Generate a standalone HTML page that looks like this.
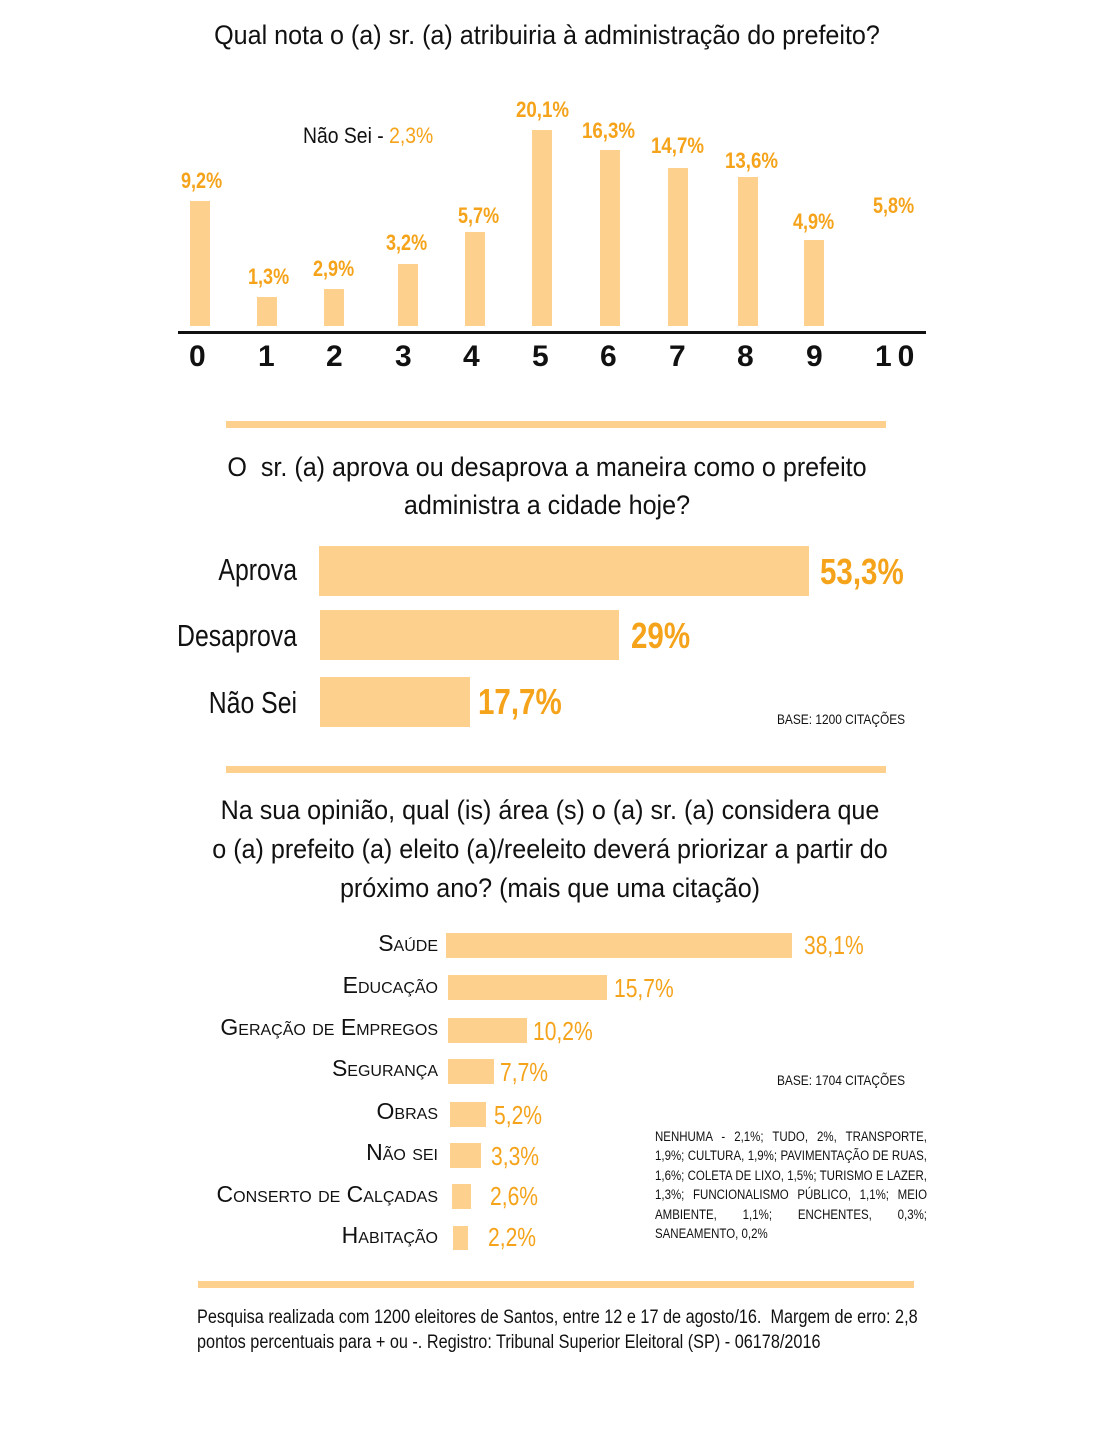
<!DOCTYPE html><html><head><meta charset="utf-8"><style>
body{margin:0;width:1094px;height:1448px;background:#fff;position:relative;font-family:"Liberation Sans",sans-serif;color:#111;overflow:hidden}
div{position:absolute}
.b{background:#fdd08e}
.o{color:#f5a31a;font-weight:bold;white-space:nowrap;transform-origin:left top}
.t{white-space:nowrap}
.c{text-align:center;transform-origin:center top}
.r{text-align:right;transform-origin:right top}
.sc{font-variant:small-caps}
.sep{background:#fdd08e;height:7px}
.n{font-weight:normal}
</style></head><body>
<div class="t c" style="left:0;width:1094px;top:20px;font-size:27px;transform:scaleX(0.93)">Qual nota o (a) sr. (a) atribuiria à administração do prefeito?</div>
<div class="t" style="left:303px;top:123px;font-size:22px;transform:scaleX(0.88);transform-origin:left top">Não Sei - <span style="color:#f5a31a">2,3%</span></div>
<div class="b" style="left:190px;top:201px;width:20px;height:125px"></div>
<div class="b" style="left:257px;top:297px;width:20px;height:29px"></div>
<div class="b" style="left:324px;top:289px;width:20px;height:37px"></div>
<div class="b" style="left:398px;top:264px;width:20px;height:62px"></div>
<div class="b" style="left:465px;top:232px;width:20px;height:94px"></div>
<div class="b" style="left:532px;top:130px;width:20px;height:196px"></div>
<div class="b" style="left:600px;top:150px;width:20px;height:176px"></div>
<div class="b" style="left:668px;top:168px;width:20px;height:158px"></div>
<div class="b" style="left:738px;top:177px;width:20px;height:149px"></div>
<div class="b" style="left:804px;top:240px;width:20px;height:86px"></div>
<div style="left:178px;top:331px;width:748px;height:3px;background:#111"></div>
<div class="o" style="left:181px;top:168px;font-size:22px;transform:scaleX(0.82)">9,2%</div>
<div class="o" style="left:248px;top:264px;font-size:22px;transform:scaleX(0.82)">1,3%</div>
<div class="o" style="left:313px;top:256px;font-size:22px;transform:scaleX(0.82)">2,9%</div>
<div class="o" style="left:386px;top:230px;font-size:22px;transform:scaleX(0.82)">3,2%</div>
<div class="o" style="left:458px;top:203px;font-size:22px;transform:scaleX(0.82)">5,7%</div>
<div class="o" style="left:516px;top:97px;font-size:22px;transform:scaleX(0.85)">20,1%</div>
<div class="o" style="left:582px;top:118px;font-size:22px;transform:scaleX(0.85)">16,3%</div>
<div class="o" style="left:651px;top:133px;font-size:22px;transform:scaleX(0.85)">14,7%</div>
<div class="o" style="left:725px;top:148px;font-size:22px;transform:scaleX(0.85)">13,6%</div>
<div class="o" style="left:793px;top:209px;font-size:22px;transform:scaleX(0.82)">4,9%</div>
<div class="o" style="left:873px;top:193px;font-size:22px;transform:scaleX(0.82)">5,8%</div>
<div class="t" style="left:189px;top:340px;font-size:30px;font-weight:bold">0</div>
<div class="t" style="left:258px;top:340px;font-size:30px;font-weight:bold">1</div>
<div class="t" style="left:326px;top:340px;font-size:30px;font-weight:bold">2</div>
<div class="t" style="left:395px;top:340px;font-size:30px;font-weight:bold">3</div>
<div class="t" style="left:463px;top:340px;font-size:30px;font-weight:bold">4</div>
<div class="t" style="left:532px;top:340px;font-size:30px;font-weight:bold">5</div>
<div class="t" style="left:600px;top:340px;font-size:30px;font-weight:bold">6</div>
<div class="t" style="left:669px;top:340px;font-size:30px;font-weight:bold">7</div>
<div class="t" style="left:737px;top:340px;font-size:30px;font-weight:bold">8</div>
<div class="t" style="left:806px;top:340px;font-size:30px;font-weight:bold">9</div>
<div class="t" style="left:875px;top:340px;font-size:30px;font-weight:bold;letter-spacing:6px">10</div>

<div class="sep" style="left:226px;top:421px;width:660px"></div>
<div class="t c" style="left:0;width:1094px;top:448px;font-size:27px;line-height:38px;transform:scaleX(0.93)">O&nbsp; sr. (a) aprova ou desaprova a maneira como o prefeito<br>administra a cidade hoje?</div>
<div class="b" style="left:319px;top:546px;width:490px;height:50px"></div>
<div class="b" style="left:320px;top:610px;width:299px;height:50px"></div>
<div class="b" style="left:320px;top:677px;width:150px;height:50px"></div>
<div class="t r" style="left:100px;width:197px;top:552px;font-size:31px;transform:scaleX(0.8)">Aprova</div>
<div class="t r" style="left:100px;width:197px;top:618px;font-size:31px;transform:scaleX(0.8)">Desaprova</div>
<div class="t r" style="left:100px;width:197px;top:685px;font-size:31px;transform:scaleX(0.8)">Não Sei</div>
<div class="o" style="left:820px;top:551px;font-size:36px;transform:scaleX(0.82)">53,3%</div>
<div class="o" style="left:631px;top:615px;font-size:36px;transform:scaleX(0.82)">29%</div>
<div class="o" style="left:478px;top:681px;font-size:36px;transform:scaleX(0.82)">17,7%</div>
<div class="t" style="left:777px;top:711px;font-size:14px;transform:scaleX(0.85);transform-origin:left top">BASE: 1200 CITAÇÕES</div>

<div class="sep" style="left:226px;top:766px;width:660px"></div>
<div class="t c" style="left:0;width:1100px;top:791px;font-size:27px;line-height:39px;transform:scaleX(0.93)">Na sua opinião, qual (is) área (s) o (a) sr. (a) considera que<br>o (a) prefeito (a) eleito (a)/reeleito deverá priorizar a partir do<br>próximo ano? (mais que uma citação)</div>
<div class="b" style="left:446px;top:933px;width:346px;height:25px"></div>
<div class="b" style="left:448px;top:975px;width:159px;height:25px"></div>
<div class="b" style="left:448px;top:1018px;width:79px;height:25px"></div>
<div class="b" style="left:448px;top:1059px;width:46px;height:25px"></div>
<div class="b" style="left:450px;top:1102px;width:36px;height:25px"></div>
<div class="b" style="left:450px;top:1143px;width:31px;height:25px"></div>
<div class="b" style="left:452px;top:1184px;width:19px;height:25px"></div>
<div class="b" style="left:453px;top:1226px;width:15px;height:24px"></div>
<div class="t r sc" style="left:100px;width:338px;top:930px;font-size:23px">Saúde</div>
<div class="t r sc" style="left:100px;width:338px;top:972px;font-size:23px">Educação</div>
<div class="t r sc" style="left:100px;width:338px;top:1014px;font-size:23px">Geração de Empregos</div>
<div class="t r sc" style="left:100px;width:338px;top:1055px;font-size:23px">Segurança</div>
<div class="t r sc" style="left:100px;width:338px;top:1098px;font-size:23px">Obras</div>
<div class="t r sc" style="left:100px;width:338px;top:1139px;font-size:23px">Não sei</div>
<div class="t r sc" style="left:100px;width:338px;top:1181px;font-size:23px">Conserto de Calçadas</div>
<div class="t r sc" style="left:100px;width:338px;top:1222px;font-size:23px">Habitação</div>
<div class="o n" style="left:804px;top:930px;font-size:26px;transform:scaleX(0.81)">38,1%</div>
<div class="o n" style="left:614px;top:973px;font-size:26px;transform:scaleX(0.81)">15,7%</div>
<div class="o n" style="left:533px;top:1016px;font-size:26px;transform:scaleX(0.81)">10,2%</div>
<div class="o n" style="left:500px;top:1057px;font-size:26px;transform:scaleX(0.81)">7,7%</div>
<div class="o n" style="left:494px;top:1100px;font-size:26px;transform:scaleX(0.81)">5,2%</div>
<div class="o n" style="left:491px;top:1141px;font-size:26px;transform:scaleX(0.81)">3,3%</div>
<div class="o n" style="left:490px;top:1181px;font-size:26px;transform:scaleX(0.81)">2,6%</div>
<div class="o n" style="left:488px;top:1222px;font-size:26px;transform:scaleX(0.81)">2,2%</div>
<div class="t" style="left:777px;top:1072px;font-size:14px;transform:scaleX(0.85);transform-origin:left top">BASE: 1704 CITAÇÕES</div>
<div style="left:655px;top:1127px;width:320px;font-size:13.5px;line-height:19.4px;text-align:justify;transform:scaleX(0.85);transform-origin:left top">NENHUMA - 2,1%; TUDO, 2%, TRANSPORTE, 1,9%; CULTURA, 1,9%; PAVIMENTAÇÃO DE RUAS, 1,6%; COLETA DE LIXO, 1,5%; TURISMO E LAZER, 1,3%; FUNCIONALISMO PÚBLICO, 1,1%; MEIO AMBIENTE, 1,1%; ENCHENTES, 0,3%; SANEAMENTO, 0,2%</div>

<div class="sep" style="left:198px;top:1281px;width:716px"></div>
<div class="t" style="left:197px;top:1305px;font-size:19px;line-height:25px;transform:scaleX(0.855);transform-origin:left top">Pesquisa realizada com 1200 eleitores de Santos, entre 12 e 17 de agosto/16.&nbsp; Margem de erro: 2,8<br>pontos percentuais para + ou -. Registro: Tribunal Superior Eleitoral (SP) - 06178/2016</div>
</body></html>
